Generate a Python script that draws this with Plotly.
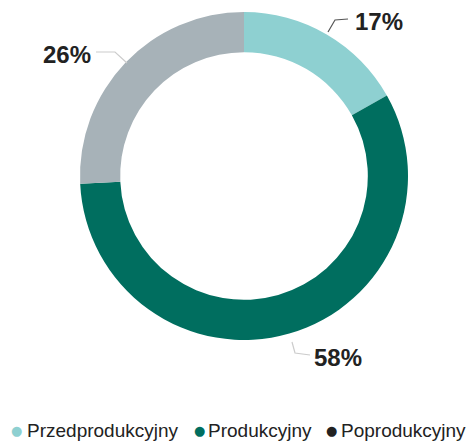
import plotly.graph_objects as go

W, H = 476, 441

categories = ["Przedprodukcyjny", "Produkcyjny", "Poprodukcyjny"]
values = [17, 58, 26]
slice_colors = ["#8ED0D1", "#006E5F", "#A7B2B8"]
legend_marker_colors = ["#8ED0D1", "#006E5F", "#222222"]

def px(x):
    return x / W

def py(y):
    return 1 - y / H

fig = go.Figure()
fig.add_trace(go.Pie(
    labels=categories,
    values=values,
    hole=0.755,
    sort=False,
    direction="clockwise",
    rotation=0,
    marker=dict(colors=slice_colors, line=dict(width=0)),
    textinfo="none",
    hoverinfo="label+value",
    showlegend=False,
    domain=dict(x=[px(80), px(408)], y=[py(342), py(10)]),
))

# value labels with leader lines (order follows categories)
label_pos = [(379, 21), (338, 357), (67, 55)]
leader_paths = [
    [(328, 32), (335, 20), (348, 19)],
    [(292, 342), (295, 353), (310, 355)],
    [(96, 52), (115, 52), (127, 63)],
]
leader_colors = ["#555555", "#CCCCCC", "#CCCCCC"]
annotations = []
shapes = []
for v, (x, y), path, lc in zip(values, label_pos, leader_paths, leader_colors):
    annotations.append(dict(
        x=px(x), y=py(y), xref="paper", yref="paper",
        text="<b>%d%%</b>" % v, showarrow=False,
        font=dict(family="Liberation Sans, Arial", size=24, color="#222222"),
        xanchor="center", yanchor="middle",
    ))
    d = "M %f,%f " % (px(path[0][0]), py(path[0][1]))
    d += " ".join("L %f,%f" % (px(a), py(b)) for a, b in path[1:])
    shapes.append(dict(type="path", path=d, xref="paper", yref="paper",
                       line=dict(color=lc, width=1.2)))

# custom legend
legend_dot_x = [16, 199, 331]
legend_text_x = [25, 206, 339]
legend_y = 430
for c, mc, dx, tx in zip(categories, legend_marker_colors, legend_dot_x, legend_text_x):
    annotations.append(dict(
        x=px(dx), y=py(legend_y), xref="paper", yref="paper",
        text="●", showarrow=False,
        font=dict(family="DejaVu Sans", size=13, color=mc),
        xanchor="center", yanchor="middle",
    ))
    annotations.append(dict(
        x=px(tx), y=py(legend_y), xref="paper", yref="paper",
        text=c, showarrow=False,
        font=dict(family="Liberation Sans, Arial", size=19, color="#222222"),
        xanchor="left", yanchor="middle",
    ))

fig.update_layout(
    width=W, height=H,
    margin=dict(l=0, r=0, t=0, b=0),
    paper_bgcolor="white",
    plot_bgcolor="white",
    annotations=annotations,
    shapes=shapes,
    showlegend=False,
)

fig.write_html("out.html",
               config={"displayModeBar": False},
               post_script="document.body.style.margin='0';document.body.style.overflow='hidden';")
